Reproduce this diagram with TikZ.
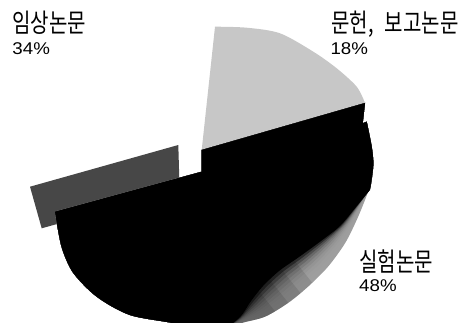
\documentclass[tikz,border=0pt]{standalone}
\usepackage{fontspec}
\newfontfamily\kr[FakeStretch=0.77]{Noto Sans CJK KR}
\newfontfamily\num[FakeStretch=1.1]{Liberation Sans}
\usetikzlibrary{calc}
\tikzset{
  hangul/.style={inner sep=0pt, anchor=base west, font=\kr\fontsize{26}{30}\selectfont},
  pct/.style={inner sep=0pt, anchor=base west, font=\num\fontsize{17}{20}\selectfont},
  lightslice/.style={fill=black!22},
  darkslice/.style={fill=black!72},
}
\begin{document}
\begin{tikzpicture}[x=1pt,y=-1pt]
\useasboundingbox (0,0) rectangle (462,323);
\clip (0,0) rectangle (462,323);
% exploded slice (34%)
\fill[darkslice] (178.3,145) -- (30,186.7) -- (41.7,228.3) -- (100,212) -- (179.5,186) -- cycle;
% light slice (18%)
\fill[lightslice] (201.7,150) -- plot[smooth] coordinates {(215,26.7) (246.7,27.7) (280,33.3) (313.3,51.7) (336.7,68.3) (356.7,86.7) (365,103)} -- cycle;
% side wall: outer and inner edges of the lit band
\coordinate (o0) at (371.5,182); \coordinate (i0) at (370,190);
\coordinate (o1) at (365,200);   \coordinate (i1) at (356,207);
\coordinate (o2) at (356.7,220); \coordinate (i2) at (340,226);
\coordinate (o3) at (345,243.3); \coordinate (i3) at (321,241);
\coordinate (o4) at (328,266.7); \coordinate (i4) at (299,257);
\coordinate (o5) at (308,286.7); \coordinate (i5) at (279,271);
\coordinate (o6) at (288,303);   \coordinate (i6) at (263,286);
\coordinate (o7) at (265,316.7); \coordinate (i7) at (251,301);
\coordinate (o8) at (241.7,323); \coordinate (i8) at (240,317);
\coordinate (o9) at (220,331);   \coordinate (i9) at (222,331);
% black slice (48%) with graded side wall
\foreach \tv in {0,0.1,0.2,0.3,0.4,0.5,0.6,0.7,0.8,0.9,1}{
  \pgfmathsetmacro\cv{38+62*\tv*\tv*\tv}
  \foreach \k in {0,...,9}{\coordinate (c\k) at ($(o\k)!\tv!(i\k)$);}
  \fill[fill=black!\cv] (201.7,150) -- (365,103) -- (362.7,123.3)
    -- plot[smooth] coordinates {(366.7,121.7) (371.7,146.7) (373.3,165) (c0)}
    -- plot[smooth] coordinates {(c0) (c1) (c2) (c3) (c4) (c5) (c6) (c7) (c8) (c9)}
    -- plot[smooth] coordinates {(200,332) (175,323.5) (130,315) (96.7,296.7) (73.3,273) (62.5,250) (58,230) (55,211.7)}
    -- (201.7,171.7) -- cycle;
}
% darker lower end of the lit band
\begin{scope}
  \clip (201.7,150) -- (365,103) -- (362.7,123.3)
    -- plot[smooth] coordinates {(366.7,121.7) (371.7,146.7) (373.3,165) (o0)}
    -- plot[smooth] coordinates {(o0) (o1) (o2) (o3) (o4) (o5) (o6) (o7) (o8) (o9)}
    -- plot[smooth] coordinates {(200,332) (175,323.5) (130,315) (96.7,296.7) (73.3,273) (62.5,250) (58,230) (55,211.7)}
    -- (201.7,171.7) -- cycle;
  \foreach \p in {320,300,280,260}{
    \fill[black,opacity=0.1] (\p-90,180) -- (\p+50,355) -- (100,355) -- (100,180) -- cycle;
  }
\end{scope}
% labels
\node[hangul] (l1a) at (12.3,32.5) {임상논문};
\node[pct] (l1b) at (12.3,55) {34\%};
\node[hangul] (l2a) at (331.3,32.5) {문헌,\hspace{0.42em}보고논문};
\node[pct] (l2b) at (330.3,55) {18\%};
\node[hangul] (l3a) at (359,271.8) {실험논문};
\node[pct] (l3b) at (359,291.7) {48\%};
\end{tikzpicture}
\end{document}
